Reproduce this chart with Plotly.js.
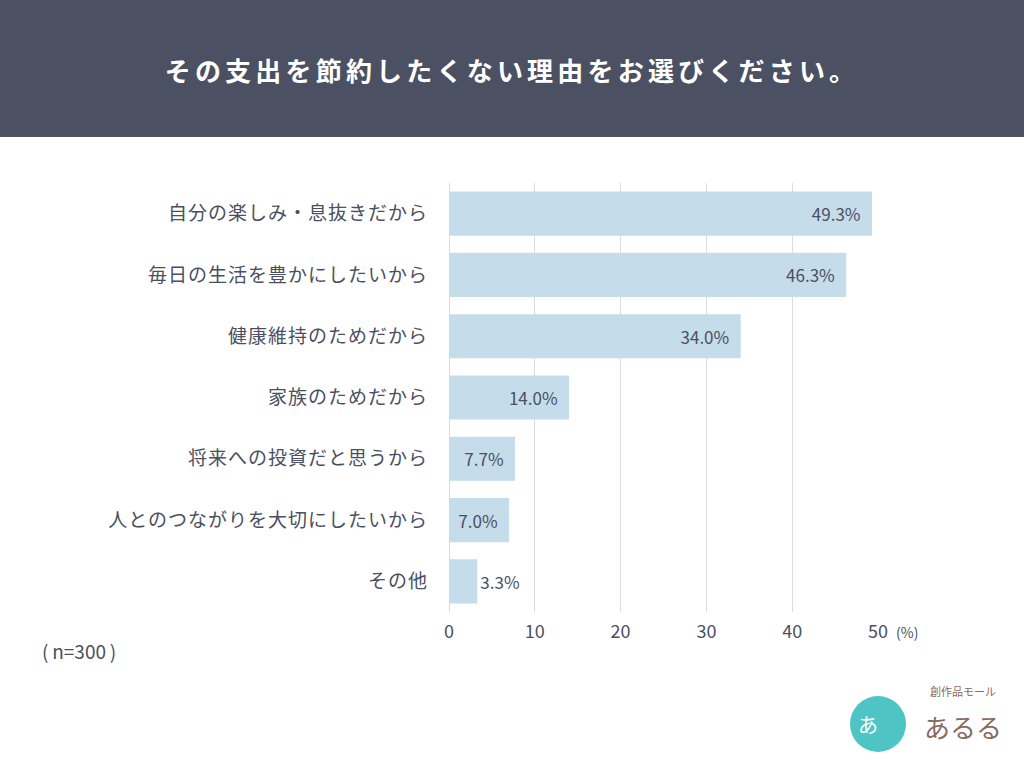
<!DOCTYPE html>
<html><head><meta charset="utf-8">
<script src="https://cdn.plot.ly/plotly-3.0.1.min.js"></script>
<style>html,body{margin:0;padding:0;background:#fff;}#chart{width:1024px;height:768px;}
#chart .gtitle{letter-spacing:4.2px;}
#chart .ytick text{letter-spacing:1px;}
</style>
</head><body><div id="chart"></div>
<script>
const categories = ["自分の楽しみ・息抜きだから","毎日の生活を豊かにしたいから","健康維持のためだから","家族のためだから","将来への投資だと思うから","人とのつながりを大切にしたいから","その他"];
const values = [49.3, 46.3, 34.0, 14.0, 7.7, 7.0, 3.3];
const valueLabels = ["49.3%","46.3%","34.0%","14.0%","7.7%","7.0%","3.3%"];
const tickVals = [0,10,20,30,40,50];
const tickLabels = ["0","10","20","30","40","50"];

const textCol = "#4a5062";
const font = "'Noto Sans CJK JP', 'Noto Sans', sans-serif";

const trace = {
  type: 'bar', orientation: 'h',
  x: values, y: categories,
  marker: {color: '#c5dcea', line: {width: 0}},
  width: 0.72,
  text: valueLabels,
  texttemplate: values.map(v => v < 5 ? '%{text}' : '%{text}\u2002'),
  textposition: values.map(v => v < 5 ? 'outside' : 'inside'),
  insidetextanchor: 'end',
  textfont: {family: font, size: 17, color: textCol},
  insidetextfont: {family: font, size: 17, color: textCol},
  outsidetextfont: {family: font, size: 17, color: textCol},
  cliponaxis: false,
  hoverinfo: 'skip'
};

const layout = {
  width: 1024, height: 768,
  margin: {l: 449, r: 146, t: 183, b: 156},
  paper_bgcolor: '#ffffff', plot_bgcolor: '#ffffff',
  font: {family: font, color: textCol},
  showlegend: false,
  title: {text: 'その支出を節約したくない理由をお選びください。', x: 0.5, xanchor: 'center', xref: 'container', y: 1 - 72/768, yanchor: 'middle', yref: 'container',
    font: {family: font, size: 26, color: '#ffffff', weight: 'bold'}},
  xaxis: {range: [0, 50], tickvals: tickVals, ticktext: tickLabels, showgrid: true, gridcolor: '#dcdcdc', gridwidth: 1,
    zeroline: true, zerolinecolor: '#dcdcdc', zerolinewidth: 1, showline: false, ticks: '', ticklabelstandoff: 7,
    tickfont: {family: font, size: 18, color: textCol}, fixedrange: true},
  yaxis: {type: 'category', autorange: 'reversed', range: [6.5, -0.5], showgrid: false, zeroline: false, showline: false, ticks: '',
    ticklabelstandoff: 20, tickfont: {family: font, size: 19, color: textCol}, fixedrange: true},
  bargap: 0.28,
  shapes: [
    {type: 'rect', xref: 'paper', yref: 'paper', x0: -449/429, x1: (1024-449)/429, y0: 1 + (183-137)/429, y1: 1 + 200/429,
      fillcolor: '#4b5162', line: {width: 0}, layer: 'below'},
    {type: 'circle', xref: 'paper', yref: 'paper', x0: (850-449)/429, x1: (906-449)/429, y0: -(752-612)/429, y1: -(696-612)/429,
      fillcolor: '#4fc4c4', line: {width: 0}}
  ],
  annotations: [
    {text: '(%)', xref: 'paper', yref: 'paper', x: (894-449)/429, y: -(632-612)/429, xanchor: 'left', yanchor: 'middle', showarrow: false,
      font: {family: font, size: 14, color: textCol}},
    {text: '(\u2009n=300\u2009)', xref: 'paper', yref: 'paper', x: (40-449)/429, y: -(650-612)/429, xanchor: 'left', yanchor: 'middle', showarrow: false,
      font: {family: font, size: 19, color: textCol}},
    {text: 'あ', xref: 'paper', yref: 'paper', x: (868-449)/429, y: -(724-612)/429, xanchor: 'center', yanchor: 'middle', showarrow: false,
      font: {family: font, size: 20, color: '#ffffff'}},
    {text: '創作品モール', xref: 'paper', yref: 'paper', x: (963-449)/429, y: -(691-612)/429, xanchor: 'center', yanchor: 'middle', showarrow: false,
      font: {family: font, size: 11, color: '#8a6a5e'}},
    {text: 'あるる', xref: 'paper', yref: 'paper', x: (963-449)/429, y: -(726-612)/429, xanchor: 'center', yanchor: 'middle', showarrow: false,
      font: {family: font, size: 26, color: '#8a6a5e'}}
  ]
};

Plotly.newPlot('chart', [trace], layout, {displayModeBar: false, staticPlot: true});
</script></body></html>
